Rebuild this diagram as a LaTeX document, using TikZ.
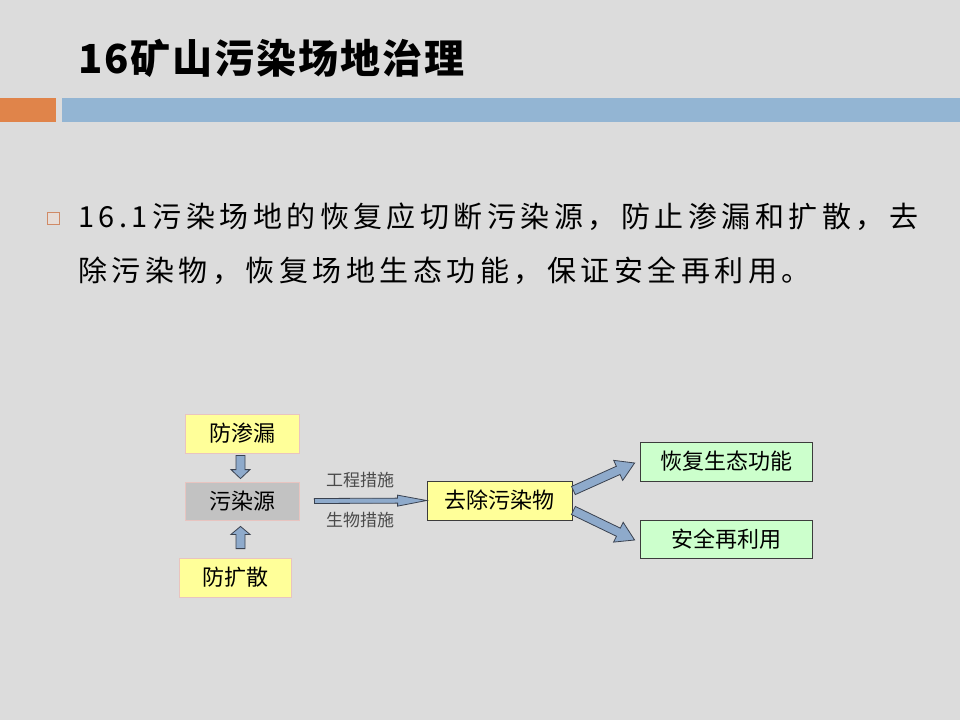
\documentclass[tikz,border=0pt]{standalone}
\usepackage{fontspec}
\setmainfont{Noto Sans CJK SC}
\usetikzlibrary{calc}
\definecolor{bg}{HTML}{DCDCDC}
\definecolor{barorange}{HTML}{E0844A}
\definecolor{barblue}{HTML}{93B5D3}
\definecolor{yelfill}{HTML}{FFFF99}
\definecolor{pinkline}{HTML}{E8C4C0}
\definecolor{grayfill}{HTML}{C2C2C2}
\definecolor{greenfill}{HTML}{CCFFCC}
\definecolor{darkline}{HTML}{3C3C3C}
\definecolor{arrfill}{HTML}{8EAACB}
\definecolor{arrline}{HTML}{3A4250}
\definecolor{labgray}{HTML}{4A4A4A}
\definecolor{bulletline}{HTML}{D08A66}
\definecolor{bulletfill}{HTML}{E6DDD8}
\newcommand\blkarrow[5]{%
  \coordinate (ba-s) at (#1);
  \coordinate (ba-t) at (#2);
  \coordinate (ba-b) at ($(ba-t)!#5!(ba-s)$);
  \filldraw[blockarrow]
    ($(ba-s)!#3!90:(ba-t)$) -- ($(ba-b)!#3!90:(ba-t)$) --
    ($(ba-b)!#4!90:(ba-t)$) -- (ba-t) --
    ($(ba-b)!#4!-90:(ba-t)$) -- ($(ba-b)!#3!-90:(ba-t)$) --
    ($(ba-s)!#3!-90:(ba-t)$) -- cycle;
}
\begin{document}
\begin{tikzpicture}[x=1pt,y=-1pt,
  box/.style={inner sep=0pt, font=\fontsize{22}{22}\selectfont, line width=0.8pt},
  softbox/.style={box, draw=pinkline, fill=yelfill},
  srcbox/.style={box, draw=pinkline, fill=grayfill},
  hardbox/.style={box, draw=darkline, fill=yelfill},
  greenbox/.style={box, draw=darkline, fill=greenfill},
  blockarrow/.style={fill=arrfill, draw=arrline, line width=0.8pt, line join=miter},
  lab/.style={inner sep=0pt, text=labgray, font=\fontsize{17}{17}\selectfont},
  bodytext/.style={anchor=west, inner sep=0pt, font=\fontsize{29}{29}\selectfont\addfontfeatures{LetterSpace=15.5}}
]
\fill[bg] (0,0) rectangle (960,720);
\useasboundingbox (0,0) rectangle (960,720);

% title and bars
\node[anchor=west, inner sep=0pt, font=\fontsize{40}{40}\selectfont\bfseries\addfontfeatures{LetterSpace=5}] (title) at (78,58) {16矿山污染场地治理};
\fill[barorange] (0,97.5) rectangle (56,122);
\fill[barblue] (62,97.5) rectangle (960,122);

% bullet text
\node[draw=bulletline, fill=bulletfill, minimum size=12pt, inner sep=0pt, line width=1.4pt] (bul) at (53.5,218.5) {};
\node[bodytext] (line1) at (78,217) {16.1污染场地的恢复应切断污染源，防止渗漏和扩散，去};
\node[bodytext] (line2) at (78,271) {除污染物，恢复场地生态功能，保证安全再利用。};

% boxes
\node[softbox, minimum width=114pt, minimum height=39pt] (fsl) at (242,433.5) {防渗漏};
\node[srcbox, minimum width=114pt, minimum height=38pt] (wry) at (242,501) {污染源};
\node[softbox, minimum width=112pt, minimum height=39pt] (fks) at (235,577.5) {防扩散};
\node[hardbox, minimum width=145pt, minimum height=39pt] (qc) at (499.5,500.5) {去除污染物};
\node[greenbox, minimum width=172pt, minimum height=39pt] (hf) at (726,461.5) {恢复生态功能};
\node[greenbox, minimum width=172pt, minimum height=38pt] (aq) at (726,539) {安全再利用};

% block arrows
\blkarrow{$(fsl.south)+(-1.5,2)$}{$(wry.north)+(-1.5,-3)$}{4.5pt}{9.5pt}{9pt}
\blkarrow{$(fks.north)+(5.5,-9)$}{$(wry.south)+(-1.5,6)$}{4.5pt}{9.5pt}{8pt}
\blkarrow{$(wry.east)+(15,0)$}{qc.west}{2.5pt}{5.5pt}{29pt}
\blkarrow{$(qc.east)+(1,-10)$}{$(hf.west)+(-5,1.5)$}{4.5pt}{11pt}{18pt}
\blkarrow{$(qc.east)+(1,10)$}{$(aq.west)+(-5,1)$}{4.5pt}{11pt}{18pt}

% arrow labels
\node[lab] (gc) at (360,480) {工程措施};
\node[lab] (sw) at (360,520) {生物措施};
\end{tikzpicture}
\end{document}
